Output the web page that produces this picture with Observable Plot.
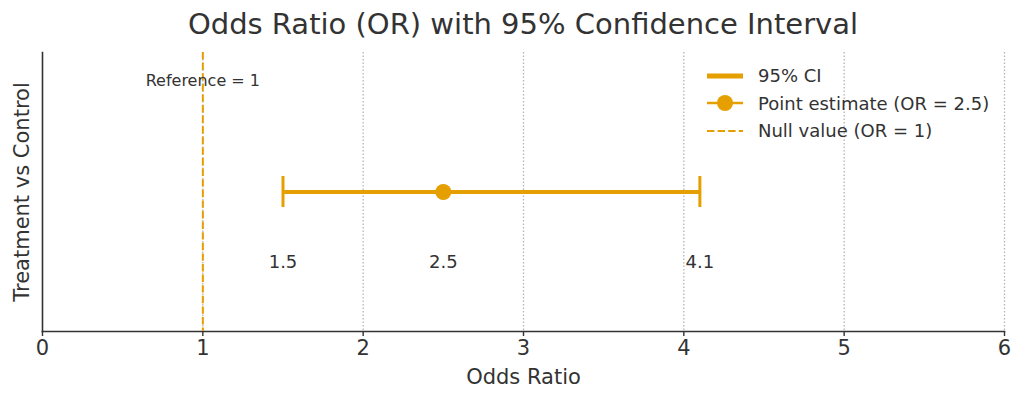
<!DOCTYPE html>
<html>
<head>
<meta charset="utf-8">
<script src="https://cdn.jsdelivr.net/npm/d3@7"></script>
<script src="https://cdn.jsdelivr.net/npm/@observablehq/plot@0.6"></script>
<style>
  html, body { margin: 0; padding: 0; background: #fff; }
  #wrap { position: relative; width: 1024px; height: 401px; font-family: "DejaVu Sans", sans-serif; color: #333; }
  #title { height: 48px; line-height: 48px; margin-left: 42px; width: 962px; text-align: center; font-size: 29px; color: #333; white-space: nowrap; }
  #legend { position: absolute; left: 707px; top: 62px; font-size: 18px; color: #333; }
  #legend .row { display: flex; align-items: center; height: 27.5px; white-space: nowrap; }
  #legend svg { width: 36px; height: 20px; margin-right: 15px; overflow: visible; }
</style>
</head>
<body>
<div id="wrap">
  <div id="title"></div>
  <div id="chart"></div>
  <div id="legend"></div>
</div>
<script>
// ---- data ----
const titleText = "Odds Ratio (OR) with 95% Confidence Interval";
const comparison = ["Treatment vs Control"];
const pointEstimate = [2.5];
const ciLower = [1.5];
const ciUpper = [4.1];
const nullValue = [1];
const xTicks = [0, 1, 2, 3, 4, 5, 6];
const gridTicks = [1, 2, 3, 4, 5, 6];
const xLabel = "Odds Ratio";
const refLabel = "Reference = 1";
const legendLabels = ["95% CI", `Point estimate (OR = ${pointEstimate[0]})`, `Null value (OR = ${nullValue[0]})`];

const color = "#E69F00";
const ink = "#333333";

const rows = comparison.map((c, i) => ({ name: c, or: pointEstimate[i], lo: ciLower[i], hi: ciUpper[i] }));
const bounds = rows.flatMap(d => [d.lo, d.hi]);
const valueLabels = rows.flatMap(d => [d.lo, d.or, d.hi]);

document.getElementById("title").textContent = titleText;

const chart = Plot.plot({
  width: 1024,
  height: 353,
  marginTop: 4,
  marginBottom: 70,
  marginLeft: 42,
  marginRight: 20,
  style: { fontFamily: "DejaVu Sans, sans-serif", fontSize: "21px", color: ink, background: "#fff", overflow: "visible" },
  x: { domain: [0, 6] },
  y: { domain: [-1, 1] },
  marks: [
    Plot.gridX(gridTicks, { stroke: "#b4b4b4", strokeOpacity: 1, strokeWidth: 1.3, strokeDasharray: "1.4,2.1" }),
    Plot.frame({ anchor: "left", stroke: ink, strokeWidth: 1.6 }),
    Plot.frame({ anchor: "bottom", stroke: ink, strokeWidth: 1.6 }),
    Plot.axisX(xTicks, { tickSize: 5, tickPadding: 4, stroke: ink, fill: ink, strokeWidth: 1.4, tickFormat: d3.format("d"),
      label: xLabel, labelAnchor: "center", labelArrow: "none", labelOffset: 52 }),
    Plot.axisY({ ticks: [], tickSize: 0, label: comparison[0], labelAnchor: "center", labelArrow: "none", labelOffset: 28, fill: ink }),
    Plot.ruleX(nullValue, { stroke: color, strokeWidth: 2, strokeDasharray: "7.4,3.2" }),
    Plot.text([refLabel], { x: nullValue[0], y: 0.8, text: d => d, fontSize: 16, fill: ink }),
    Plot.link(rows, { x1: "lo", x2: "hi", y1: 0, y2: 0, stroke: color, strokeWidth: 4.2 }),
    Plot.ruleX(bounds, { y1: -0.111, y2: 0.111, stroke: color, strokeWidth: 3 }),
    Plot.dot(rows, { x: "or", y: 0, r: 8, fill: color, stroke: "none" }),
    Plot.text(valueLabels, { x: d => d, y: -0.5, text: d => String(d), fontSize: 18, fill: ink })
  ]
});
document.getElementById("chart").appendChild(chart);

// ---- legend ----
const legend = d3.select("#legend");
legendLabels.forEach((label, i) => {
  const row = legend.append("div").attr("class", "row");
  const svg = row.append("svg").attr("viewBox", "0 0 36 20");
  const line = svg.append("line").attr("x1", 0).attr("x2", 36).attr("y1", 10).attr("y2", 10).attr("stroke", color);
  if (i === 0) line.attr("stroke-width", 5);
  if (i === 1) { line.attr("stroke-width", 2.5); svg.append("circle").attr("cx", 18).attr("cy", 10).attr("r", 8).attr("fill", color); }
  if (i === 2) line.attr("stroke-width", 2).attr("stroke-dasharray", "7.4,3.2");
  row.append("span").text(label);
});
</script>
</body>
</html>
